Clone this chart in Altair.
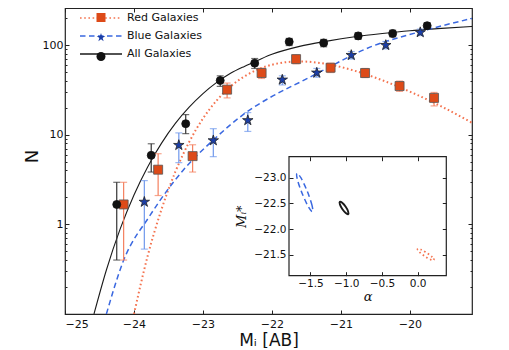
import altair as alt
import pandas as pd

# ---------------- data ----------------
names = ["Red Galaxies", "Blue Galaxies", "All Galaxies"]

all_M = [-24.25, -23.75, -23.25, -22.75, -22.25, -21.75, -21.25, -20.75, -20.25, -19.75]
all_N = [1.67, 5.9, 13.3, 40.4, 63, 109, 106, 127, 135, 165]
all_lo = [0.40, 3.84, 10.3, 34.7, 55, 99, 96, 116, 124, 152]
all_hi = [2.95, 7.94, 16.8, 45.5, 71, 119, 116, 138, 147, 178]

red_M = [-24.15, -23.65, -23.15, -22.65, -22.15, -21.65, -21.15, -20.65, -20.15, -19.65]
red_N = [1.67, 4.08, 5.78, 31.9, 48.9, 69.9, 56, 48.9, 35, 25.8]
red_lo = [0.40, 2.10, 3.84, 25.8, 42.5, 62, 49.5, 43.5, 30.5, 21.0]
red_hi = [2.95, 6.15, 7.74, 37.8, 55.5, 78, 63, 55, 39.8, 29.7]

blue_M = [-23.85, -23.35, -22.85, -22.35, -21.85, -21.35, -20.85, -20.35, -19.85]
blue_N = [1.78, 7.66, 8.64, 14.5, 41.1, 49.2, 77.4, 100, 139]
blue_lo = [0.53, 4.89, 5.70, 10.9, 36.0, 44.0, 70.0, 91.0, 128]
blue_hi = [3.08, 10.5, 11.7, 17.7, 45.5, 55.0, 85.0, 110, 151]

# fitted curves
all_curve_M = [-24.58, -24.4, -24.2, -24.0, -23.8, -23.6, -23.4, -23.2, -23.0, -22.8, -22.6,
               -22.4, -22.2, -22.0, -21.6, -21.2, -20.8, -20.4, -20.0, -19.6, -19.1]
all_curve_N = [0.10, 0.31, 0.89, 2.13, 4.41, 8.08, 13.4, 20.3, 28.8, 38.4, 48.5,
               58, 68, 79, 97, 111, 124, 135, 145, 153, 162]
red_curve_M = [-24.0, -23.8, -23.6, -23.4, -23.2, -23.0, -22.8, -22.6, -22.4, -22.2, -22.0,
               -21.8, -21.6, -21.4, -21.2, -20.8, -20.4, -20.0, -19.6, -19.1]
red_curve_N = [0.10, 0.45, 1.48, 3.87, 8.3, 15.2, 24.2, 34.6, 44.8, 53.8, 60.5,
               64.6, 65.9, 64.6, 61.5, 51.8, 40.6, 30.3, 21.8, 13.6]
blue_curve_M = [-24.4, -24.16, -23.77, -23.29, -22.86, -22.32, -22.03, -21.5, -21.31, -20.58, -19.86, -19.1]
blue_curve_N = [0.10, 0.38, 1.25, 4.0, 8.6, 19, 26, 42, 50, 95, 141, 199]

# inset: confidence contours in (alpha, M*)
blue_ell_a = [-1.472, -1.478, -1.543, -1.630, -1.688, -1.682, -1.616, -1.529]
blue_ell_m = [-22.337, -22.462, -22.731, -22.990, -23.086, -22.961, -22.692, -22.433]
all_ell_a = [-0.973, -0.973, -1.007, -1.056, -1.089, -1.088, -1.055, -1.006]
all_ell_m = [-22.291, -22.343, -22.433, -22.511, -22.531, -22.480, -22.390, -22.312]
red_ell_a = [0.227, 0.204, 0.128, 0.043, -0.002, 0.021, 0.097, 0.182]
red_ell_m = [-21.396, -21.450, -21.535, -21.601, -21.610, -21.556, -21.471, -21.404]
inset_alpha_lim = [-1.8, 0.4]
inset_mstar_lim = [-23.41, -21.09]

x_ticks = [-25, -24, -23, -22, -21, -20]
y_major = [1, 10, 100]
y_minor = [0.2, 0.3, 0.4, 0.5, 0.6, 0.7, 0.8, 0.9, 2, 3, 4, 5, 6, 7, 8, 9,
           20, 30, 40, 50, 60, 70, 80, 90, 200]
ins_x_ticks = [-1.5, -1.0, -0.5, 0.0]
ins_y_ticks = [-23.0, -22.5, -22.0, -21.5]

# ---------------- styles ----------------
RED_LINE, RED_MK, RED_ERR = "#f4734f", "#dd4a18", "#f4805f"
BLUE_LINE, BLUE_MK, BLUE_ERR = "#3a68e0", "#1b3ea8", "#6f98ec"
BLK_LINE, BLK_MK, BLK_ERR = "#1a1a1a", "#111111", "#333333"
RED_DASH, BLUE_DASH = [1.6, 2.6], [5.5, 3.5]
STAR = ("M0,-1L0.225,-0.309L0.951,-0.309L0.363,0.118L0.588,0.809L0,0.382"
        "L-0.588,0.809L-0.363,0.118L-0.951,-0.309L-0.225,-0.309Z")
LEG_LINE = "M-4.2,0L4.2,0"

W, H = 407, 306


def xs():
    return alt.Scale(domain=[-25, -19.1], nice=False, zero=False)


def ys():
    return alt.Scale(type="log", domain=[0.1, 260], nice=False)


def isx():
    return alt.Scale(domain=inset_alpha_lim, range=[224, 381.3], nice=False, zero=False)


def isy():
    return alt.Scale(domain=inset_mstar_lim, range=[148.7, 267.7], nice=False, zero=False)


MINUS = "replace(datum.label, '-', '\u2212')"


def tk(**kw):
    base = dict(domain=False, grid=False, tickColor="#222", tickWidth=1)
    base.update(kw)
    return alt.Axis(**base)


ax_bottom = tk(orient="bottom", values=x_ticks, format="d", labelExpr=MINUS, offset=-4, tickSize=4,
               labelPadding=4, title="M\u1d62 [AB]", titleFontSize=17, titlePadding=3)
ax_top = tk(orient="top", values=x_ticks, labels=False, offset=-4, tickSize=4, title=None)
ay_left = tk(orient="left", values=y_major, format="d", offset=-4, tickSize=4, labelPadding=2,
             title="N", titleFontSize=18, titleX=-37, titleY=148, titleBaseline="middle",
             titleAngle=270)
ay_left_minor = tk(orient="left", values=y_minor, labels=False, offset=-2, tickSize=2, title=None)
ay_right = tk(orient="right", values=y_major, labels=False, offset=-4, tickSize=4, title=None)
ay_right_minor = tk(orient="right", values=y_minor, labels=False, offset=-2, tickSize=2, title=None)

ix_bottom = tk(orient="bottom", values=ins_x_ticks, format=".1f", labelExpr=MINUS, offset=-42.3,
               tickSize=4, labelPadding=3, labelFontSize=10.5, title="\u03b1", titleFont="DejaVu Serif",
               titleFontStyle="italic", titleFontSize=13, titlePadding=1, zindex=1)
iy_left = tk(orient="left", values=ins_y_ticks, format=".1f", labelExpr=MINUS, offset=-228,
             tickSize=4, labelPadding=3, labelFontSize=10.5, title="M\u1d62*", titleFont="DejaVu Serif",
             titleFontStyle="italic", titleFontSize=13, titlePadding=5, zindex=1)
ix_top = tk(orient="top", values=ins_x_ticks, labels=False, offset=-152.7, tickSize=4, title=None, zindex=1)
iy_right = tk(orient="right", values=ins_y_ticks, labels=False, offset=-29.7, tickSize=4, title=None, zindex=1)


def curve(M, N, color, width, dash=None, xaxis=None, yaxis=None):
    df = pd.DataFrame({"M": M, "N": N})
    kw = dict(color=color, strokeWidth=width, interpolate="monotone", clip=True)
    if dash:
        kw["strokeDash"] = dash
    return alt.Chart(df).mark_line(**kw).encode(
        x=alt.X("M:Q", scale=xs(), axis=xaxis), y=alt.Y("N:Q", scale=ys(), axis=yaxis))


def errbars(M, lo, hi, color, yaxis=None):
    df = pd.DataFrame({"M": M, "lo": lo, "hi": hi})
    base = alt.Chart(df)
    rule = base.mark_rule(color=color, strokeWidth=1.2).encode(
        x=alt.X("M:Q", scale=xs(), axis=None), y=alt.Y("lo:Q", scale=ys(), axis=yaxis), y2=alt.Y2("hi"))
    c1 = base.mark_tick(color=color, orient="horizontal", size=7, thickness=1.2).encode(
        x=alt.X("M:Q", scale=xs(), axis=None), y=alt.Y("lo:Q", scale=ys(), axis=None))
    c2 = base.mark_tick(color=color, orient="horizontal", size=7, thickness=1.2).encode(
        x=alt.X("M:Q", scale=xs(), axis=None), y=alt.Y("hi:Q", scale=ys(), axis=None))
    return [rule, c1, c2]


def markers(M, N, shape, fill, size, stroke, xaxis=None, yaxis=None):
    df = pd.DataFrame({"M": M, "N": N})
    return alt.Chart(df).mark_point(shape=shape, filled=True, fill=fill, size=size, stroke=stroke,
                                    strokeWidth=0.8, opacity=1).encode(
        x=alt.X("M:Q", scale=xs(), axis=xaxis), y=alt.Y("N:Q", scale=ys(), axis=yaxis))


# legends (built from scales; the carrier layers draw nothing)
leg_common = dict(title=None, orient="none", legendY=4, direction="vertical", padding=0,
                  labelFontSize=11, labelFont="DejaVu Sans", labelColor="#111", rowPadding=7,
                  symbolOpacity=1)
line_legend = alt.Legend(legendX=30, symbolType=LEG_LINE, symbolSize=100, symbolStrokeWidth=1.6,
                         labelOffset=20, **leg_common)
mk_names = ["r", "b", "a"]
mk_legend = alt.Legend(legendX=30.5, symbolSize=81, labelOpacity=0, labelOffset=6, symbolStrokeColor="#444",
                       symbolStrokeWidth=0.8, zindex=1, **leg_common)

leg_df = pd.DataFrame({"series": names, "mk": mk_names, "M": [-22.0] * 3, "N": [1.0] * 3})
line_leg = alt.Chart(leg_df).transform_filter("false").mark_line().encode(
    x=alt.X("M:Q", scale=xs(), axis=None), y=alt.Y("N:Q", scale=ys(), axis=None),
    stroke=alt.Stroke("series:N", scale=alt.Scale(domain=names, range=[RED_LINE, BLUE_LINE, BLK_LINE]),
                      legend=line_legend),
    strokeDash=alt.StrokeDash("series:N", scale=alt.Scale(domain=names, range=[RED_DASH, BLUE_DASH, [1, 0]]),
                              legend=line_legend),
)
mk_leg = alt.Chart(leg_df).transform_filter("false").mark_point(filled=True, opacity=1).encode(
    x=alt.X("M:Q", scale=xs(), axis=None), y=alt.Y("N:Q", scale=ys(), axis=None),
    fill=alt.Fill("mk:N", scale=alt.Scale(domain=mk_names, range=[RED_MK, BLUE_MK, BLK_MK]), legend=mk_legend),
    shape=alt.Shape("mk:N", scale=alt.Scale(domain=mk_names, range=["square", STAR, "circle"]),
                    legend=mk_legend),
)


def ellipse(a, m, color, width, dash=None, xaxis=None, yaxis=None):
    df = pd.DataFrame({"a": a, "m": m, "k": list(range(len(a)))})
    kw = dict(color=color, strokeWidth=width, interpolate="cardinal-closed")
    if dash:
        kw["strokeDash"] = dash
    return alt.Chart(df).mark_line(**kw).encode(
        x=alt.X("a:Q", scale=isx(), axis=xaxis), y=alt.Y("m:Q", scale=isy(), axis=yaxis), order="k:Q")


frame_df = pd.DataFrame({"a0": [inset_alpha_lim[0]], "a1": [inset_alpha_lim[1]],
                         "m0": [inset_mstar_lim[0]], "m1": [inset_mstar_lim[1]]})
frame = alt.Chart(frame_df).mark_rect(fill="white", stroke="#222", strokeWidth=1.2).encode(
    x=alt.X("a0:Q", scale=isx(), axis=ix_bottom), x2=alt.X2("a1"),
    y=alt.Y("m0:Q", scale=isy(), axis=iy_left), y2=alt.Y2("m1"))

layers = [
    curve(all_curve_M, all_curve_N, BLK_LINE, 1.1, xaxis=ax_bottom, yaxis=ay_left),
    curve(red_curve_M, red_curve_N, RED_LINE, 2.0, RED_DASH, xaxis=ax_top, yaxis=ay_right),
    curve(blue_curve_M, blue_curve_N, BLUE_LINE, 1.5, BLUE_DASH, yaxis=ay_left_minor),
]
layers += errbars(all_M, all_lo, all_hi, BLK_ERR, yaxis=ay_right_minor)
layers += errbars(red_M, red_lo, red_hi, RED_ERR)
layers += errbars(blue_M, blue_lo, blue_hi, BLUE_ERR)
layers += [
    markers(red_M, red_N, "square", RED_MK, 81, "#555"),
    markers(blue_M, blue_N, STAR, BLUE_MK, 121, "#222"),
    markers(all_M, all_N, "circle", BLK_MK, 64, "#111"),
    line_leg,
    mk_leg,
    frame,
    ellipse(blue_ell_a, blue_ell_m, BLUE_LINE, 1.5, BLUE_DASH, xaxis=ix_top, yaxis=iy_right),
    ellipse(all_ell_a, all_ell_m, BLK_LINE, 1.9),
    ellipse(red_ell_a, red_ell_m, RED_LINE, 1.8, RED_DASH),
]

chart = alt.layer(*layers).resolve_scale(x="independent", y="independent").properties(
    width=W, height=H,
    autosize=alt.AutoSizeParams(type="none"),
    padding={"left": 57, "top": 0, "right": 29, "bottom": 34},
).configure_view(stroke="#222", strokeWidth=1.2).configure_axis(
    labelFont="DejaVu Sans", titleFont="DejaVu Sans", labelFontSize=11, labelColor="#111",
    titleColor="#111", titleFontWeight="normal")

chart.save("out.html", embed_options={"renderer": "svg", "actions": False})
